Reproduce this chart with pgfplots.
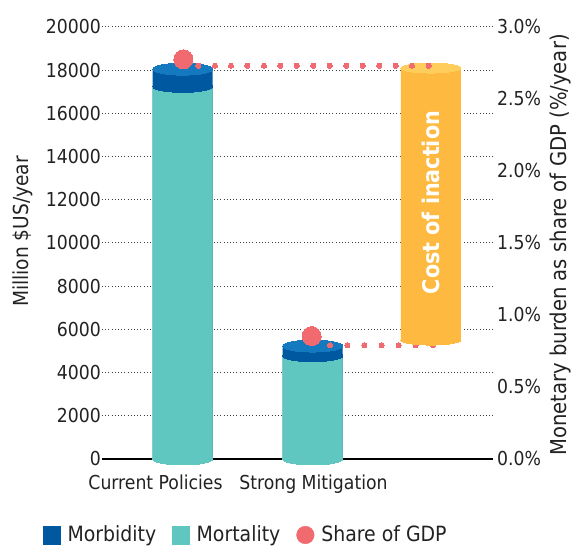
\documentclass[border=0pt]{standalone}
\usepackage{fontspec}
\setmainfont{DejaVu Sans Condensed}
\usepackage{pgfplots}
\usepackage{pgfplotstable}
\pgfplotsset{compat=1.18}
\definecolor{mort}{HTML}{60C6C0}
\definecolor{morb}{HTML}{0059A0}
\definecolor{morbtop}{HTML}{1479BE}
\definecolor{redc}{HTML}{F06A70}
\definecolor{cost}{HTML}{FDB940}
\definecolor{costtop}{HTML}{FFCD5C}
\definecolor{txt}{HTML}{222222}

\pgfplotstableread{
x mort morb
182.7 17250 800
312.7 4780 450
}\damage

\pgfplotsset{
  ell/.style={only marks, mark=*, color=#1, line width=0pt,
    mark options={draw=none, fill=#1, line width=0pt}},
}

\begin{document}
\begin{tikzpicture}
\path[use as bounding box] (0,0) rectangle (575bp,547bp);
\begin{axis}[
  at={(102bp,88bp)}, anchor=south west, scale only axis,
  width=391bp, height=432bp,
  xmin=102, xmax=493, ymin=0, ymax=20000,
  axis x line*=bottom, axis y line*=left,
  x axis line style={line width=2bp, black, -},
  y axis line style={draw=none},
  xtick={155.5,313.5}, xticklabels={Current Policies, Strong Mitigation},
  ytick={0,2000,4000,6000,8000,10000,12000,14000,16000,18000,20000},
  scaled y ticks=false,
  major tick length=0pt,
  ymajorgrids,
  grid style={line width=1bp, dash pattern=on 1bp off 2.2bp, color=black!75},
  tick label style={font=\fontsize{19.2bp}{22bp}\selectfont, text=txt},
  yticklabel style={anchor=east, inner sep=0pt, xshift=-1bp},
  xticklabel style={anchor=base, inner sep=0pt, yshift=-31bp},
  /pgf/number format/assume math mode=true,
  /pgf/number format/1000 sep={},
  clip=false]
\addplot[ybar, bar width=60, bar shift=0pt, fill=morb, draw=none]
  table[x=x, y expr=\thisrow{mort}+\thisrow{morb}] {\damage};
\addplot[ybar, bar width=60, bar shift=0pt, fill=mort, draw=none]
  table[x=x, y=mort] {\damage};
\addplot[ell=mort, mark size=6bp, mark options={xscale=5}]
  table[x=x, y expr=0] {\damage};
\addplot[ell=morb, mark size=6bp, mark options={xscale=5}]
  table[x=x, y=mort] {\damage};
\addplot[ell=morbtop, mark size=6bp, mark options={xscale=5}]
  table[x=x, y expr=\thisrow{mort}+\thisrow{morb}] {\damage};
\end{axis}

\begin{axis}[
  at={(102bp,88bp)}, anchor=south west, scale only axis,
  width=391bp, height=432bp,
  xmin=102, xmax=493, ymin=0, ymax=3,
  axis x line=none, axis y line*=right,
  y axis line style={draw=none},
  ytick={0,0.5,1,1.5,2,2.5,3},
  major tick length=0pt,
  yticklabel={\pgfmathprintnumber[fixed, fixed zerofill, precision=1]{\tick}\%},
  yticklabel style={anchor=west, inner sep=0pt, xshift=4bp, font=\fontsize{19.2bp}{22bp}\selectfont, text=txt},
  /pgf/number format/assume math mode=true,
  clip=false,
  legend columns=3,
  legend cell align=left,
  legend style={at={(-0.1509,-0.1736)}, anchor=base west, draw=none, fill=none, inner sep=0pt,
    font=\fontsize{21bp}{24bp}\selectfont, text=txt, nodes={inner sep=0pt},
    /tikz/every odd column/.append style={column sep=7bp},
    /tikz/every even column/.append style={column sep=16bp}}]
\addlegendimage{legend image code/.code={\fill[morb] (0bp,-10bp) rectangle (17bp,8bp);}}
\addlegendentry{Morbidity}
\addlegendimage{legend image code/.code={\fill[mort] (0bp,-10bp) rectangle (17bp,8bp);}}
\addlegendentry{Mortality}
\addlegendimage{legend image code/.code={\fill[redc] (8.5bp,-1bp) circle (8.8bp);}}
\addlegendentry{Share of GDP}
% lower dotted connector (behind the cost cylinder)
\addplot[ell=redc, mark size=2.6bp]
  coordinates {(330,0.790) (347.3,0.790) (364.3,0.790) (381.7,0.790) (398.7,0.790) (415.7,0.790) (433,0.790)};
% cost of inaction cylinder
\addplot[fill=cost, draw=none]
  coordinates {(400.8,0.826) (460.8,0.826) (460.8,2.715) (400.8,2.715) (400.8,0.826)};
\addplot[ell=cost, mark size=5bp, mark options={xscale=6}]
  coordinates {(430.8,0.826)};
\addplot[ell=costtop, mark size=5bp, mark options={xscale=6}]
  coordinates {(430.8,2.715)};
\node[rotate=90, text=white, font=\bfseries\fontsize{23bp}{26bp}\selectfont]
  at (axis cs:430.8,1.781) {Cost of inaction};
% upper dotted connector
\addplot[ell=redc, mark size=2.6bp]
  coordinates {(198.3,2.731) (215,2.731) (231,2.731) (247.3,2.731) (264,2.731) (280.3,2.731) (296.7,2.731) (313.3,2.731) (329.7,2.731) (346.3,2.731) (362.7,2.731) (379.3,2.731) (395.7,2.731) (412,2.731) (428.7,2.731)};
% share of GDP
\addplot[ell=redc, mark size=9.5bp]
  coordinates {(183.3,2.776) (311.7,0.854)};
\end{axis}

\node[rotate=90, anchor=base, font=\fontsize{20.7bp}{24bp}\selectfont, text=txt]
  at (28.5bp,315.5bp) {Million \$US/year};
\node[rotate=90, anchor=base, font=\fontsize{21.8bp}{25bp}\selectfont, text=txt]
  at (566bp,302bp) {Monetary burden as share of GDP (\%/year)};
\end{tikzpicture}
\end{document}
